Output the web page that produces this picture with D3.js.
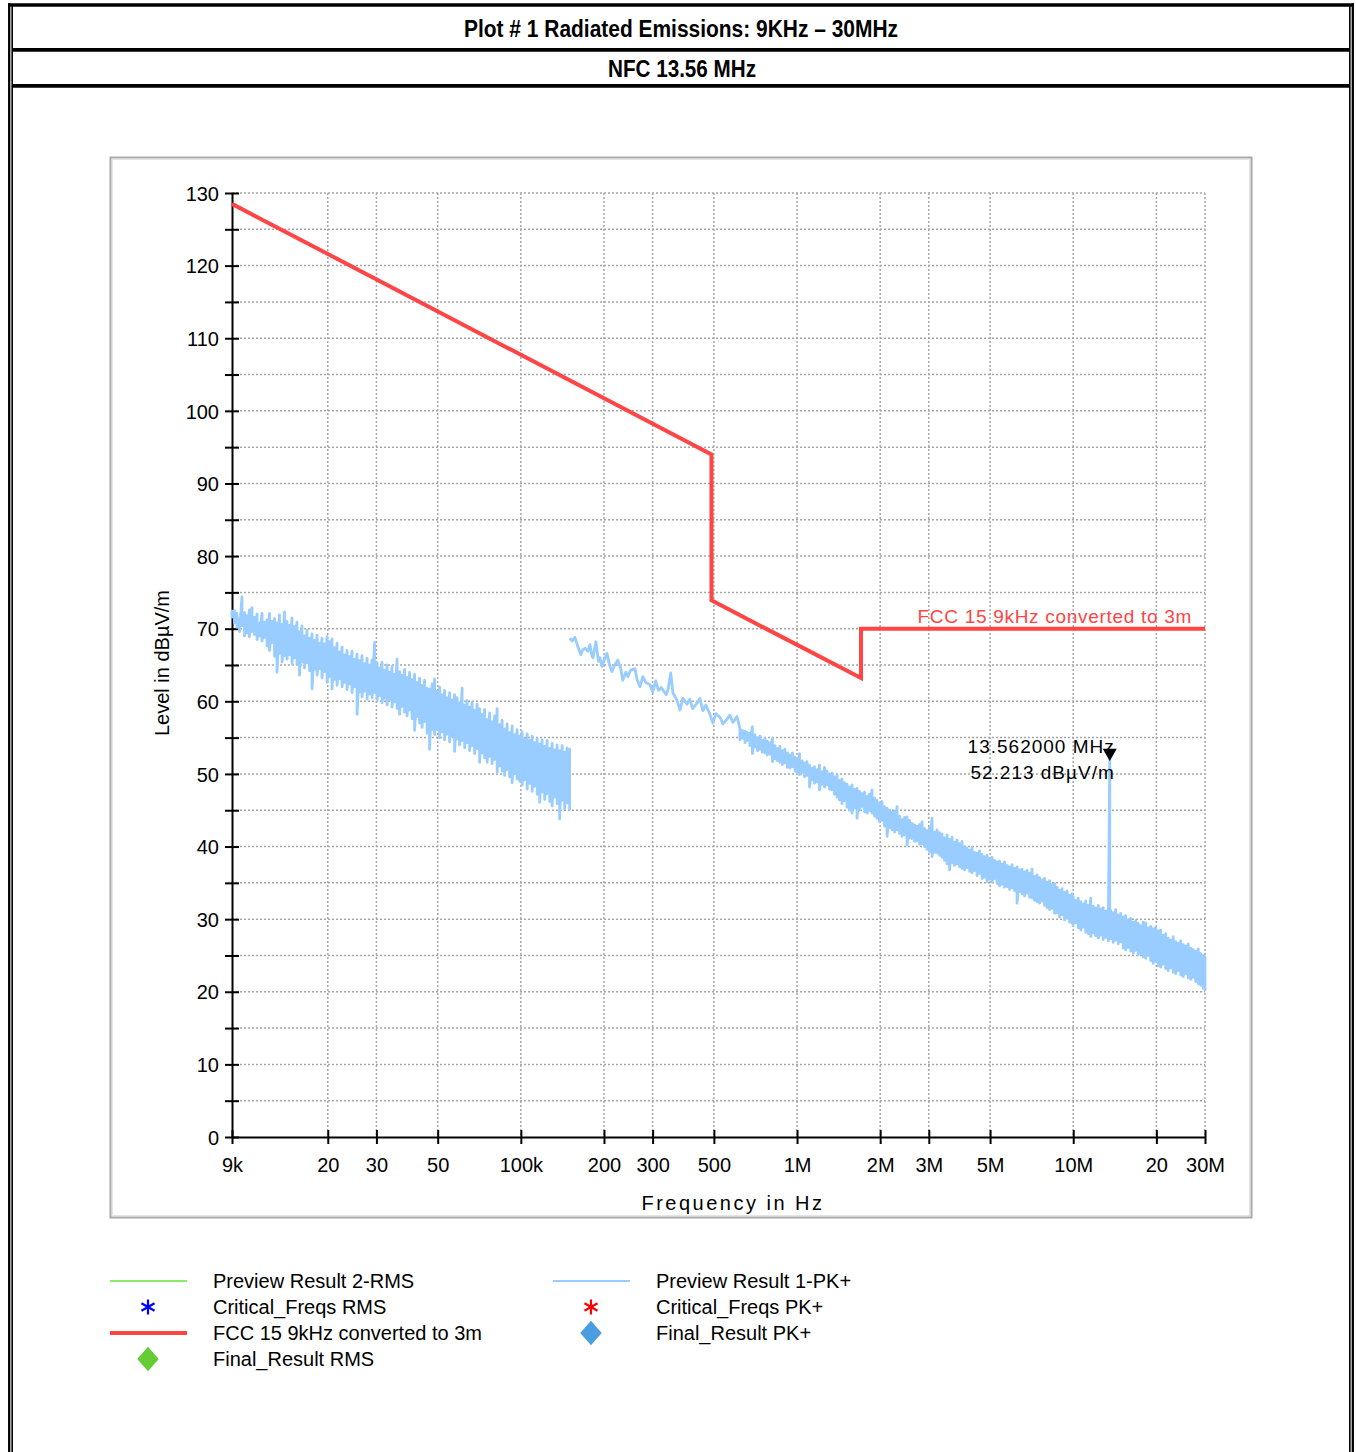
<!DOCTYPE html>
<html>
<head>
<meta charset="utf-8">
<script src="https://cdn.jsdelivr.net/npm/d3@7"></script>
<style>
body { margin: 0; background: #fff; }
text { font-family: "Liberation Sans", Arial, sans-serif; }
</style>
</head>
<body>
<script>
var W = 1356, H = 1452;

// ---- data ----
var titleText = "Plot # 1 Radiated Emissions: 9KHz \u2013 30MHz";
var subTitleText = "NFC 13.56 MHz";

var xTickValues = [9e3, 20e3, 30e3, 50e3, 100e3, 200e3, 300e3, 500e3, 1e6, 2e6, 3e6, 5e6, 10e6, 20e6, 30e6];
var xTickLabels = ["9k", "20", "30", "50", "100k", "200", "300", "500", "1M", "2M", "3M", "5M", "10M", "20", "30M"];
var yMajor = [0, 10, 20, 30, 40, 50, 60, 70, 80, 90, 100, 110, 120, 130];
var yMinor = [5, 15, 25, 35, 45, 55, 65, 75, 85, 95, 105, 115, 125];

// FCC 15.209 limit (Hz, dBuV/m)
var limitFreq = [9e3, 490e3, 490e3, 1.705e6, 1.705e6, 30e6];
var limitLevel = [128.5, 94.0, 73.9, 63.2, 70.0, 70.0];

// Preview Result 1-PK+, first sweep 9k-150k : [kHz, low, high]
var pkSweep1 = [
[9.0,71.6,72.6],[9.19,70.8,72.5],[9.38,70.2,72.1],[9.58,69.6,71.4],[9.78,70.4,74.4],[9.99,69.0,72.2],
[10.2,69.4,71.8],[10.41,68.9,72.6],[10.63,69.6,72.9],[10.86,69.2,71.6],[11.09,68.5,72.0],[11.32,69.0,70.8],
[11.56,68.3,72.1],[11.8,68.8,70.9],[12.05,67.6,71.2],[12.3,67.0,72.1],[12.56,68.1,71.0],[12.83,66.2,71.4],
[13.1,64.0,70.8],[13.37,66.6,71.9],[13.66,65.4,70.6],[13.94,66.3,72.3],[14.24,65.8,71.0],[14.54,66.4,70.5],
[14.84,65.2,71.5],[15.16,66.0,70.3],[15.47,65.1,70.9],[15.8,63.6,69.6],[16.13,65.4,70.4],[16.47,64.6,69.0],
[16.82,65.3,69.8],[17.18,64.2,68.7],[17.54,61.7,69.3],[17.91,64.4,68.4],[18.29,63.6,69.1],[18.67,64.5,68.0],
[19.06,63.2,68.7],[19.47,64.1,67.9],[19.88,62.6,68.9],[20.3,63.4,68.2],[20.72,61.7,68.6],[21.16,63.0,67.4],
[21.61,62.2,68.0],[22.06,63.1,66.8],[22.53,62.0,67.5],[23.0,62.6,66.4],[23.48,61.6,67.0],[23.98,62.4,66.2],
[24.48,61.2,66.9],[25.0,62.0,65.8],[25.53,58.2,66.5],[26.07,61.3,65.6],[26.61,60.6,66.3],[27.18,61.4,65.2],
[27.75,60.3,65.9],[28.33,61.0,65.0],[28.93,60.5,65.7],[29.54,61.2,68.1],[30.16,60.1,65.3],[30.8,60.8,64.6],
[31.45,59.8,65.4],[32.11,60.4,64.3],[32.79,59.5,65.0],[33.48,60.2,64.0],[34.18,59.2,64.8],[34.9,59.9,63.7],
[35.64,59.0,65.8],[36.39,58.2,64.1],[37.16,59.3,63.6],[37.94,58.5,64.4],[38.74,58.0,63.3],[39.56,58.8,64.0],
[40.39,57.6,63.0],[41.24,56.0,63.7],[42.11,57.9,62.6],[43.0,57.0,63.2],[43.9,56.4,62.2],[44.83,57.2,62.9],
[45.77,55.6,61.8],[46.74,53.4,61.7],[47.72,56.1,62.4],[48.73,55.4,63.1],[49.75,56.2,61.4],[50.8,55.0,62.0],
[51.87,55.8,60.9],[52.96,54.7,61.5],[54.08,55.5,60.5],[55.22,54.4,61.2],[56.38,55.2,60.2],[57.57,53.1,60.9],
[58.78,54.8,60.5],[60.02,54.0,59.8],[61.29,54.6,61.8],[62.58,53.6,59.5],[63.9,54.3,60.1],[65.24,53.2,59.2],
[66.62,53.9,59.9],[68.02,52.8,58.8],[69.46,53.5,59.6],[70.92,51.6,59.0],[72.41,52.9,58.2],[73.94,52.2,58.9],
[75.5,51.6,57.5],[77.09,52.4,58.4],[78.71,51.4,57.2],[80.37,52.0,58.0],[82.06,50.2,59.0],[83.79,51.1,56.8],
[85.56,50.4,57.4],[87.36,49.8,56.2],[89.2,50.6,56.9],[91.08,49.6,55.7],[93.0,48.8,56.6],[94.96,50.0,55.4],
[96.96,49.3,56.1],[99.0,49.0,55.2],[101.1,48.5,55.8],[103.2,49.2,54.8],[105.4,47.9,55.5],[107.6,48.7,54.6],
[109.9,47.6,55.2],[112.2,48.3,54.3],[114.6,47.2,54.9],[117.0,46.1,54.1],[119.4,47.5,54.7],[122.0,46.5,53.8],
[124.5,47.3,54.6],[127.2,46.2,53.5],[129.8,45.6,54.2],[132.6,46.8,53.3],[135.4,45.9,54.0],[138.2,43.8,53.2],
[141.1,46.4,53.9],[144.1,45.2,53.0],[147.1,46.0,53.6],[150.2,45.0,53.4]
];

// second sweep 150k-30M, low part as a single trace : [kHz, level]
var pkSweep2Line = [
[150.6,68.7],[153.2,68.3],[157,68.8],[160.9,67.5],[164.9,66.4],[167.6,67.1],[170.7,67.3],[175,66.9],
[177.9,67.8],[181,66.2],[182.5,66.0],[187,68.2],[191,65.5],[193.4,66.0],[197,64.8],[200,65.6],
[205,66.6],[208.5,65.3],[213.7,64.1],[219,65.0],[224.5,65.7],[230,64.5],[234,62.9],[240,64.0],
[244,63.4],[250,64.3],[259,64.5],[263.5,63.0],[270,62.0],[276.5,63.4],[283.5,62.6],[293,62.3],
[300.5,61.3],[308,62.8],[315,61.5],[322.5,61.9],[336,60.9],[341,61.6],[349,63.9],[355,61.2],
[367,60.2],[377,58.8],[386.5,60.4],[399.5,59.6],[409,60.3],[419,59.0],[433.5,59.7],[445,60.4],
[456,58.7],[468,59.5],[484,58.2],[496,57.0],[508,58.3],[526,57.8],[539,56.9],[557,57.5],
[571,58.1],[586,57.1],[606,57.9]
];

// second sweep, dense part : [kHz, low, high]
var pkSweep2Band = [
[621,54.7,56.3],[634,54.9,56.0],[648,54.3,55.9],[661,54.6,55.7],[675,53.9,55.6],[689,52.8,56.5],
[704,53.7,55.4],[719,53.2,55.0],[734,53.4,55.2],[749,53.0,54.6],[765,52.9,54.9],[781,52.6,54.5],
[798,52.7,54.3],[815,51.7,54.9],[832,52.1,53.9],[849,51.8,53.5],[867,51.6,53.8],[885,51.3,53.2],
[904,51.5,53.4],[923,50.9,52.9],[943,50.8,52.6],[963,51.0,52.9],[983,50.4,52.3],[1000,50.1,52.1],
[1021,49.9,52.8],[1043,50.2,51.8],[1065,49.6,51.5],[1087,49.8,51.7],[1110,48.2,51.2],[1133,49.2,50.8],
[1157,48.7,51.0],[1181,48.9,50.6],[1206,47.8,51.2],[1232,48.6,50.3],[1258,48.2,50.9],[1284,48.5,50.4],
[1311,47.9,50.0],[1339,47.8,50.1],[1367,47.2,49.6],[1396,46.8,49.9],[1425,46.4,49.1],[1455,45.9,49.3],
[1486,46.3,48.8],[1517,45.4,48.6],[1549,45.0,48.2],[1582,44.6,48.5],[1615,45.3,47.9],[1649,43.9,48.0],
[1684,45.0,47.6],[1719,45.5,47.3],[1755,44.8,47.5],[1793,44.6,46.9],[1830,44.9,47.2],[1869,44.6,47.8],
[1908,44.2,46.7],[1948,43.9,46.4],[1989,43.4,45.9],[2031,43.6,46.2],[2074,42.8,45.5],[2118,41.4,45.3],
[2163,42.6,45.0],[2208,42.3,44.7],[2255,42.0,44.9],[2302,42.3,45.5],[2351,41.8,44.2],[2400,41.4,43.7],
[2451,41.6,44.0],[2502,40.2,44.1],[2555,41.2,43.6],[2609,41.1,43.2],[2664,40.7,43.0],[2720,40.8,42.8],
[2777,40.3,43.0],[2836,40.4,43.4],[2896,40.0,42.5],[2956,39.6,42.2],[3018,39.3,42.6],[3082,38.6,43.9],
[3147,39.2,42.0],[3214,39.1,42.3],[3282,38.8,41.9],[3350,38.5,41.7],[3421,38.1,41.2],[3493,37.6,41.6],
[3566,36.8,41.0],[3642,37.8,41.3],[3718,37.4,40.6],[3797,37.6,40.9],[3877,37.2,40.4],[3958,37.0,40.7],
[4042,36.8,40.0],[4127,37.1,39.8],[4214,36.6,39.5],[4303,36.4,39.9],[4393,36.7,39.2],[4486,36.0,39.1],
[4580,36.3,39.4],[4677,35.6,38.9],[4775,35.8,38.6],[4876,35.2,38.8],[4979,35.5,38.3],[5084,35.1,38.5],
[5191,35.6,38.1],[5300,34.9,37.9],[5412,34.6,38.0],[5526,34.8,37.6],[5642,34.4,37.9],[5761,34.5,37.4],
[5882,34.1,37.2],[6006,34.3,37.5],[6133,33.9,37.0],[6262,32.2,37.2],[6394,33.8,36.8],[6529,33.5,36.9],
[6666,33.2,36.5],[6807,33.6,36.7],[6950,33.0,36.3],[7096,32.9,36.9],[7246,32.6,35.9],[7398,32.4,36.1],
[7554,32.2,35.7],[7713,32.5,35.4],[7876,31.9,35.6],[8042,31.6,35.1],[8211,31.3,35.3],[8384,31.5,34.8],
[8561,30.8,34.9],[8741,30.9,34.4],[8925,30.3,34.0],[9113,30.6,34.2],[9305,29.9,33.7],[9501,30.1,33.9],
[9701,29.6,33.3],[9906,29.4,33.5],[10000,29.2,33.1],[10210,29.5,32.6],[10430,28.8,32.9],[10650,28.5,32.4],
[10870,28.9,32.1],[11100,28.2,32.5],[11330,28.0,31.9],[11570,27.6,32.9],[11810,28.1,31.8],[12060,27.7,31.5],
[12320,27.4,31.9],[12580,27.8,31.4],[12840,27.2,31.6],[13110,27.5,31.1],[13390,27.0,31.5],[13562,28.0,52.2],
[13670,27.3,31.2],[13960,26.8,30.9],[14250,27.1,31.3],[14550,26.6,30.6],[14860,26.9,30.8],[15170,26.0,30.3],
[15490,25.8,30.5],[15820,26.1,29.9],[16150,25.6,30.1],[16490,25.3,29.6],[16840,25.7,29.8],[17190,25.1,29.4],
[17550,25.3,29.1],[17930,24.8,29.6],[18310,24.6,29.5],[18690,25.0,28.8],[19080,24.3,29.0],[19480,23.9,28.7],
[19890,24.2,28.9],[20310,23.6,28.4],[20740,23.4,28.5],[21180,23.8,27.8],[21620,23.2,28.0],[22080,22.9,27.4],
[22540,23.3,27.1],[23020,22.7,27.6],[23500,22.5,26.9],[24000,22.9,26.7],[24510,22.3,27.0],[25020,22.1,26.5],
[25550,22.5,26.3],[26090,21.9,26.6],[26640,21.7,26.0],[27200,22.0,25.8],[27770,21.4,25.6],[28360,21.1,25.9],
[28960,20.9,25.3],[29560,20.5,25.0],[30000,20.2,24.8]
];

var markerFreq = 13.562e6, markerLevel = 52.213;
var markerLines = ["13.562000 MHz", "52.213 dB\u00b5V/m"];

var legendLeft = ["Preview Result 2-RMS", "Critical_Freqs RMS", "FCC 15 9kHz converted to 3m", "Final_Result RMS"];
var legendRight = ["Preview Result 1-PK+", "Critical_Freqs PK+", "Final_Result PK+"];

// ---- drawing ----
var svg = d3.select("body").append("svg")
	.attr("width", W)
	.attr("height", H)

// page frame
svg.append("line").attr("x1", 8).attr("x2", 1354).attr("y1", 5).attr("y2", 5)
	.attr("stroke", "#000").attr("stroke-width", 3.5)
svg.append("line").attr("x1", 9.2).attr("x2", 9.2).attr("y1", 3.3).attr("y2", H)
	.attr("stroke", "#000").attr("stroke-width", 2.3)
svg.append("line").attr("x1", 12.2).attr("x2", 12.2).attr("y1", 5).attr("y2", H)
	.attr("stroke", "#000").attr("stroke-width", 1.6)
svg.append("line").attr("x1", 1352.8).attr("x2", 1352.8).attr("y1", 3.3).attr("y2", H)
	.attr("stroke", "#000").attr("stroke-width", 2.3)
svg.append("line").attr("x1", 1349.8).attr("x2", 1349.8).attr("y1", 5).attr("y2", H)
	.attr("stroke", "#000").attr("stroke-width", 1.6)
svg.selectAll("line.sep").data([49.8, 85.8]).enter()
	.append("line").attr("class", "sep")
	.attr("x1", 12).attr("x2", 1350).attr("y1", function(d){ return d; }).attr("y2", function(d){ return d; })
	.attr("stroke", "#000").attr("stroke-width", 3.7)

svg.append("text")
	.attr("x", 681).attr("y", 37)
	.attr("text-anchor", "middle")
	.attr("font-size", 23).attr("font-weight", "bold")
	.attr("textLength", 434).attr("lengthAdjust", "spacingAndGlyphs")
	.text(titleText)
svg.append("text")
	.attr("x", 682).attr("y", 77)
	.attr("text-anchor", "middle")
	.attr("font-size", 23).attr("font-weight", "bold")
	.attr("textLength", 148).attr("lengthAdjust", "spacingAndGlyphs")
	.text(subTitleText)

// plot panel
svg.append("rect")
	.attr("x", 110.5).attr("y", 157.5).attr("width", 1141).attr("height", 1060)
	.attr("fill", "#fff").attr("stroke", "#a8a8a8").attr("stroke-width", 2)
svg.append("rect")
	.attr("x", 112.5).attr("y", 159.5).attr("width", 1137).attr("height", 1056)
	.attr("fill", "none").attr("stroke", "#e4e4e4").attr("stroke-width", 1)

var x = d3.scaleLog().domain([9e3, 30e6]).range([232, 1205]);
var y = d3.scaleLinear().domain([0, 130]).range([1137, 193]);

// grid
var grid = svg.append("g")
	.attr("stroke", "#a6a6a6").attr("stroke-width", 1.5).attr("stroke-dasharray", "2,2")
grid.selectAll("line.h")
	.data(yMajor.concat(yMinor).filter(function(d){ return d > 0; }))
	.enter().append("line").attr("class", "h")
	.attr("x1", x(9e3)).attr("x2", x(30e6))
	.attr("y1", function(d){ return y(d); }).attr("y2", function(d){ return y(d); })
grid.selectAll("line.v")
	.data(xTickValues.slice(1))
	.enter().append("line").attr("class", "v")
	.attr("y1", y(130)).attr("y2", y(0))
	.attr("x1", function(d){ return x(d); }).attr("x2", function(d){ return x(d); })

// axes
var yAxis = d3.axisLeft(y)
	.tickValues(yMajor.concat(yMinor))
	.tickFormat(function(d){ return yMajor.indexOf(d) >= 0 ? d : ""; })
	.tickSizeInner(7).tickSizeOuter(0).tickPadding(6);
var gy = svg.append("g").attr("transform", "translate(" + x(9e3) + ",0)").call(yAxis)
gy.select(".domain").attr("stroke-width", 2)
gy.selectAll(".tick line").attr("x2", 7).attr("x1", -7).attr("stroke-width", 2)
gy.selectAll(".tick text").attr("font-size", 20).attr("font-family", "Liberation Sans, Arial, sans-serif").attr("dy", "0.36em")

var xAxis = d3.axisBottom(x)
	.tickValues(xTickValues)
	.tickFormat(function(d, i){ return xTickLabels[i]; })
	.tickSizeInner(7).tickSizeOuter(0).tickPadding(14);
var gx = svg.append("g").attr("transform", "translate(0," + y(0) + ")").call(xAxis)
gx.select(".domain").attr("stroke-width", 2)
gx.selectAll(".tick line").attr("y1", -7).attr("y2", 7).attr("stroke-width", 2)
gx.selectAll(".tick text").attr("font-size", 20).attr("font-family", "Liberation Sans, Arial, sans-serif")

svg.append("text")
	.attr("x", 733).attr("y", 1210)
	.attr("text-anchor", "middle").attr("font-size", 20).attr("letter-spacing", 2.5)
	.text("Frequency in Hz")
svg.append("text")
	.attr("transform", "translate(169,663) rotate(-90)")
	.attr("text-anchor", "middle").attr("font-size", 20)
	.text("Level in dB\u00b5V/m")

// traces
var line = d3.line()
	.x(function(d){ return x(d[0]); })
	.y(function(d){ return y(d[1]); });

function bandPoints(rows) {
	var pts = [];
	rows.forEach(function(r){
		pts.push([r[0] * 1e3, r[2]]);
		pts.push([r[0] * 1e3, r[1]]);
	});
	return pts;
}

var sweep1 = bandPoints(pkSweep1);
var sweep2 = pkSweep2Line.map(function(r){ return [r[0] * 1e3, r[1]]; }).concat(bandPoints(pkSweep2Band));

svg.selectAll("path.pk")
	.data([sweep1, sweep2])
	.enter().append("path").attr("class", "pk")
	.attr("d", line)
	.attr("fill", "none")
	.attr("stroke", "#99ccff")
	.attr("stroke-width", 2.8)
	.attr("stroke-linejoin", "round")

var limitPts = limitFreq.map(function(f, i){ return [f, limitLevel[i]]; });
svg.append("path")
	.attr("d", line(limitPts))
	.attr("fill", "none")
	.attr("stroke", "#ff4545")
	.attr("stroke-width", 4)

svg.append("text")
	.attr("x", x(30e6) - 13).attr("y", y(70) - 6)
	.attr("text-anchor", "end").attr("font-size", 19).attr("letter-spacing", 0.7).attr("fill", "#ff4545")
	.text("FCC 15 9kHz converted to 3m")

// marker
var mx = x(markerFreq), my = y(markerLevel);
svg.append("path")
	.attr("d", d3.symbol().type(d3.symbolTriangle).size(85)())
	.attr("transform", "translate(" + mx + "," + (my - 5) + ") rotate(180)")
	.attr("fill", "#000")
svg.selectAll("text.mk")
	.data(markerLines)
	.enter().append("text").attr("class", "mk")
	.attr("x", mx + 5)
	.attr("y", function(d, i){ return my - 5 + i * 26; })
	.attr("text-anchor", "end").attr("font-size", 19).attr("letter-spacing", 1)
	.text(function(d){ return d; })

// legend
var rowY = [1281, 1307, 1333, 1359];
var lg = svg.append("g")

lg.append("line").attr("x1", 110).attr("x2", 187).attr("y1", rowY[0]).attr("y2", rowY[0])
	.attr("stroke", "#8de86c").attr("stroke-width", 2)
lg.append("path").attr("d", d3.symbol().type(d3.symbolAsterisk).size(160)())
	.attr("transform", "translate(148," + rowY[1] + ")")
	.attr("fill", "none").attr("stroke", "#0000ff").attr("stroke-width", 2.2)
lg.append("line").attr("x1", 110).attr("x2", 187).attr("y1", rowY[2]).attr("y2", rowY[2])
	.attr("stroke", "#ff4545").attr("stroke-width", 4)
lg.append("path").attr("d", d3.symbol().type(d3.symbolSquare).size(230)())
	.attr("transform", "translate(148," + rowY[3] + ") scale(1,1.15) rotate(45)")
	.attr("fill", "#66cc33")

lg.append("line").attr("x1", 553).attr("x2", 630).attr("y1", rowY[0]).attr("y2", rowY[0])
	.attr("stroke", "#99ccff").attr("stroke-width", 2)
lg.append("path").attr("d", d3.symbol().type(d3.symbolAsterisk).size(160)())
	.attr("transform", "translate(591," + rowY[1] + ")")
	.attr("fill", "none").attr("stroke", "#ff0000").attr("stroke-width", 2.2)
lg.append("path").attr("d", d3.symbol().type(d3.symbolSquare).size(230)())
	.attr("transform", "translate(591," + rowY[2] + ") scale(1,1.15) rotate(45)")
	.attr("fill", "#4a9de0")

lg.selectAll("text.l")
	.data(legendLeft)
	.enter().append("text").attr("class", "l")
	.attr("x", 213).attr("y", function(d, i){ return rowY[i] + 7; })
	.attr("font-size", 20)
	.text(function(d){ return d; })
lg.selectAll("text.r")
	.data(legendRight)
	.enter().append("text").attr("class", "r")
	.attr("x", 656).attr("y", function(d, i){ return rowY[i] + 7; })
	.attr("font-size", 20)
	.text(function(d){ return d; })
</script>
</body>
</html>
